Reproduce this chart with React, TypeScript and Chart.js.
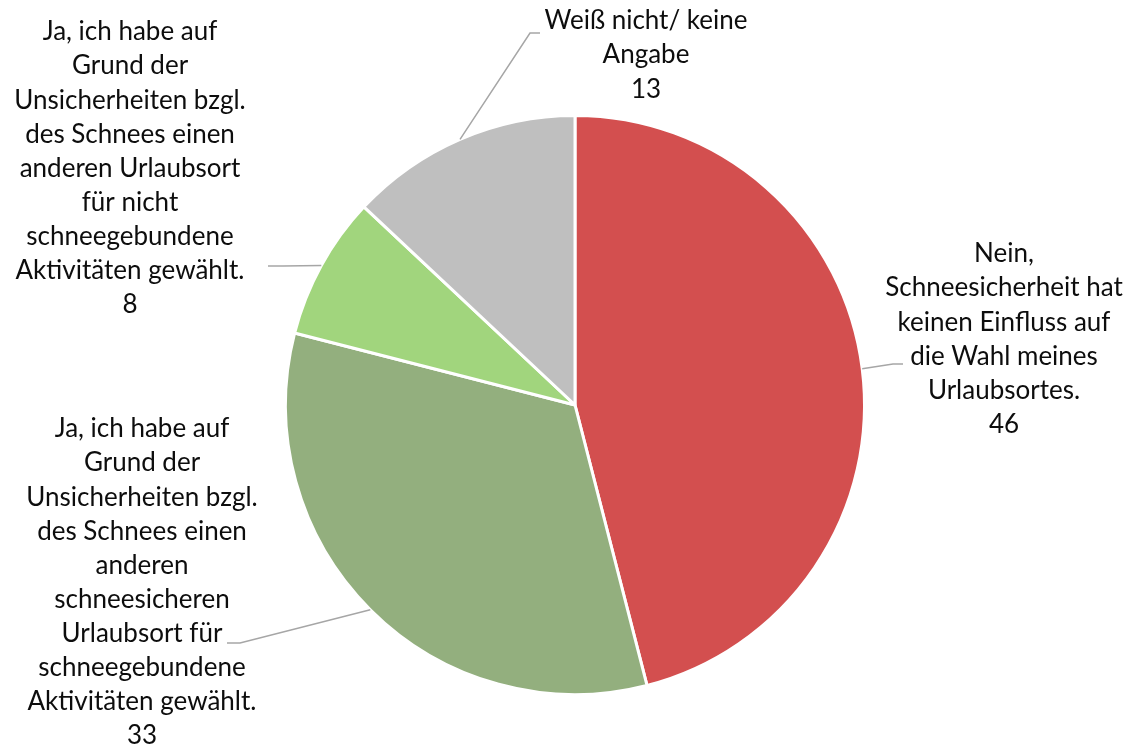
import React, { useEffect, useRef } from "react";
import { Chart, registerables } from "chart.js";

Chart.register(...registerables);

const categories: string[][] = [
  ["Nein,", "Schneesicherheit hat", "keinen Einfluss auf", "die Wahl meines", "Urlaubsortes."],
  ["Ja, ich habe auf", "Grund der", "Unsicherheiten bzgl.", "des Schnees einen", "anderen", "schneesicheren", "Urlaubsort für", "schneegebundene", "Aktivitäten gewählt."],
  ["Ja, ich habe auf", "Grund der", "Unsicherheiten bzgl.", "des Schnees einen", "anderen Urlaubsort", "für nicht", "schneegebundene", "Aktivitäten gewählt."],
  ["Weiß nicht/ keine", "Angabe"],
];
const values: number[] = [46, 33, 8, 13];
const colors: string[] = ["#D34F4F", "#93AF7E", "#A1D57D", "#BFBFBF"];

// label layout (center x, first line center y), leader elbow and end
const labelPos: number[][] = [[1004, 254], [142, 429], [130, 32], [646, 21]];
const leaderElbow: number[][] = [[893, 364], [240, 643], [283, 266], [530, 33]];
const leaderEnd: number[][] = [[903, 364], [227, 643], [268, 266], [540, 33]];

const FONT = "26px Lato";
const LINE_H = 34.1;

const labelPlugin = {
  id: "pieLabels",
  afterDraw(chart: any) {
    const ctx = chart.ctx;
    const meta = chart.getDatasetMeta(0);
    ctx.save();
    meta.data.forEach((arc: any, i: number) => {
      const mid = (arc.startAngle + arc.endAngle) / 2;
      const px = arc.x + Math.cos(mid) * arc.outerRadius;
      const py = arc.y + Math.sin(mid) * arc.outerRadius;
      ctx.strokeStyle = "#A6A6A6";
      ctx.lineWidth = 1.5;
      ctx.beginPath();
      ctx.moveTo(px, py);
      ctx.lineTo(leaderElbow[i][0], leaderElbow[i][1]);
      ctx.lineTo(leaderEnd[i][0], leaderEnd[i][1]);
      ctx.stroke();

      const lines = [...categories[i], String(values[i])];
      ctx.fillStyle = "#0D0D0D";
      ctx.font = FONT;
      ctx.textAlign = "center";
      ctx.textBaseline = "middle";
      lines.forEach((t, j) => {
        ctx.fillText(t, labelPos[i][0], labelPos[i][1] + j * LINE_H);
      });
    });
    ctx.restore();
  },
};

export default function App() {
  const ref = useRef<HTMLCanvasElement>(null);
  useEffect(() => {
    if (!ref.current) return;
    const chart = new Chart(ref.current, {
      type: "pie",
      data: {
        labels: categories.map((c) => c.join(" ")),
        datasets: [
          {
            data: values,
            backgroundColor: colors,
            borderColor: "#FFFFFF",
            borderWidth: 3,
          },
        ],
      },
      options: {
        animation: false,
        responsive: false,
        devicePixelRatio: 1,
        layout: { padding: { left: 284, right: 261, top: 114, bottom: 54 } },
        plugins: {
          legend: { display: false },
          tooltip: { enabled: false },
        },
      },
      plugins: [labelPlugin],
    });
    return () => chart.destroy();
  }, []);
  return (
    <div style={{ position: "absolute", left: 0, top: 0, width: 1127, height: 750, background: "#fff" }}>
      <canvas ref={ref} width={1127} height={750} />
    </div>
  );
}
